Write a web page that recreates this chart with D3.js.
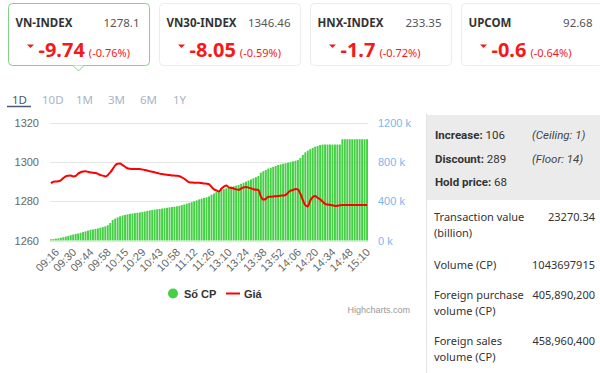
<!DOCTYPE html>
<html>
<head>
<meta charset="utf-8">
<script src="https://cdn.jsdelivr.net/npm/d3@7"></script>
<style>
  body { margin: 0; background: #fff; }
  svg { display: block; }
</style>
</head>
<body>
<div id="chart"></div>
<script>
// index cards
var indexNames = ["VN-INDEX", "VN30-INDEX", "HNX-INDEX", "UPCOM"];
var indexValues = ["1278.1", "1346.46", "233.35", "92.68"];
var indexChanges = ["-9.74", "-8.05", "-1.7", "-0.6"];
var indexPcts = ["(-0.76%)", "(-0.59%)", "(-0.72%)", "(-0.64%)"];

var tabs = ["1D", "10D", "1M", "3M", "6M", "1Y"];

// x tick labels, one every 7 points
var tickLabels = ["09:16", "09:30", "09:44", "09:58", "10:15", "10:29", "10:43", "10:58", "11:12",
  "11:26", "13:10", "13:24", "13:38", "13:52", "14:06", "14:20", "14:34", "14:48", "15:10"];

// cumulative volume (k)
var volume = [
  12, 15, 19, 22, 28, 34, 40, 47, 54, 61,
  67, 72, 79, 86, 93, 100, 109, 113, 118, 123,
  130, 136, 144, 155, 178, 208, 222, 235, 246, 254,
  260, 266, 271, 275, 278, 282, 286, 291, 295, 301,
  306, 310, 314, 318, 321, 325, 329, 333, 337, 341,
  344, 348, 352, 360, 367, 375, 382, 390, 399, 408,
  418, 426, 433, 440, 448, 465, 478, 492, 504, 514,
  522, 531, 540, 546, 552, 558, 565, 576, 587, 598,
  610, 621, 633, 644, 656, 690, 705, 717, 731, 740,
  749, 758, 767, 774, 780, 786, 792, 798, 805, 811,
  818, 840, 870, 896, 914, 929, 942, 954, 962, 971,
  976, 976, 976, 976, 976, 976, 976, 976, 1030, 1030,
  1030, 1030, 1030, 1030, 1030, 1030, 1030, 1030, 1030
];

// index price
var price = [
  1289.1, 1289.9, 1290.0, 1290.1, 1290.6, 1291.7, 1292.6, 1292.9, 1293.0, 1292.6,
  1292.8, 1294.0, 1294.7, 1295.1, 1295.2, 1294.9, 1294.6, 1294.5, 1294.3, 1293.9,
  1293.3, 1293.0, 1292.6, 1293.2, 1294.7, 1296.3, 1298.2, 1299.0, 1299.1, 1298.3,
  1297.5, 1296.7, 1296.5, 1296.4, 1296.4, 1296.4, 1296.3, 1296.1, 1295.9, 1295.6,
  1295.2, 1295.0, 1294.7, 1294.3, 1294.0, 1293.8, 1293.6, 1293.4, 1293.3, 1293.1,
  1293.0, 1292.9, 1292.7, 1292.1, 1291.4, 1290.4, 1289.6, 1289.5, 1289.4, 1289.4,
  1289.4, 1289.2, 1289.0, 1288.9, 1288.6, 1287.3, 1286.0, 1285.5, 1284.9, 1286.3,
  1287.4, 1288.0, 1287.0, 1286.8, 1286.4, 1286.0, 1285.8, 1286.4, 1287.0, 1287.2,
  1286.9, 1286.5, 1286.1, 1285.8, 1285.7, 1282.4, 1280.8, 1281.1, 1282.2, 1282.3,
  1282.4, 1282.5, 1282.6, 1282.8, 1282.9, 1283.1, 1284.3, 1285.3, 1285.7, 1286.2,
  1286.0, 1283.8, 1280.6, 1278.0, 1277.3, 1280.3, 1282.0, 1282.6, 1281.7, 1280.9,
  1279.8, 1278.6, 1278.3, 1278.1, 1277.9, 1277.6, 1277.7, 1277.9, 1278.0, 1278.0,
  1278.0, 1278.1, 1278.1, 1278.1, 1278.1, 1278.1, 1278.1, 1278.1, 1278.1
];

var leftTicks = [1260, 1280, 1300, 1320];
var rightTicks = [0, 400, 800, 1200];

// side panel
var breadthLabels = ["Increase:", "Discount:", "Hold price:"];
var breadthValues = ["106", "289", "68"];
var breadthNotes = ["(Ceiling: 1)", "(Floor: 14)", ""];
var statLabels = [["Transaction value", "(billion)"], ["Volume (CP)"], ["Foreign purchase", "volume (CP)"], ["Foreign sales", "volume (CP)"]];
var statValues = ["23270.34", "1043697915", "405,890,200", "458,960,400"];

var width = 600, height = 373;
var svg = d3.select("#chart").append("svg")
  .attr("width", width)
  .attr("height", height);

var red = "#f51a1a";
var cardFont = "'Noto Sans', 'Open Sans', sans-serif";
var hcFont = "'Liberation Sans', Arial, sans-serif";

// cards
var cards = svg.append("g").selectAll("g")
  .data(indexNames)
  .enter()
  .append("g")
  .attr("transform", function (d, i) { return "translate(" + (8.5 + i * 151) + ",3.5)"; });

cards.append("rect")
  .attr("width", 141)
  .attr("height", 62)
  .attr("rx", 4)
  .attr("fill", "#fff")
  .attr("stroke", function (d, i) { return i === 0 ? "#86cf86" : "#ececec"; });

cards.append("text")
  .attr("x", 7).attr("y", 23)
  .attr("font-family", cardFont).attr("font-size", 11.5).attr("font-weight", "bold")
  .attr("fill", "#333")
  .text(function (d) { return d; });

cards.append("text")
  .attr("x", 131).attr("y", 23)
  .attr("text-anchor", "end")
  .attr("font-family", cardFont).attr("font-size", 11.5)
  .attr("fill", "#555")
  .text(function (d, i) { return indexValues[i]; });

cards.append("path")
  .attr("d", "M18.5,41 L25.5,41 L22,44.5 Z")
  .attr("fill", red);

var chg = cards.append("text")
  .attr("x", 30).attr("y", 53)
  .attr("font-family", cardFont)
  .attr("fill", red);
chg.append("tspan")
  .attr("font-size", 20).attr("font-weight", "bold")
  .text(function (d, i) { return indexChanges[i]; });
chg.append("tspan")
  .attr("dx", 4)
  .attr("font-size", 11)
  .text(function (d, i) { return indexPcts[i]; });

// little pointer under the active card
svg.append("path")
  .attr("d", "M73,65.5 L78.5,71 L84,65.5")
  .attr("fill", "#fff")
  .attr("stroke", "#86cf86");

// tabs
var tabX = [12, 42, 76, 108, 140, 173];
svg.append("g").selectAll("text")
  .data(tabs)
  .enter()
  .append("text")
  .attr("x", function (d, i) { return tabX[i]; })
  .attr("y", 104)
  .attr("font-family", cardFont).attr("font-size", 11.5)
  .attr("fill", function (d, i) { return i === 0 ? "#4a5a70" : "#a8b4c4"; })
  .text(function (d) { return d; });
svg.append("line")
  .attr("x1", 7).attr("x2", 31).attr("y1", 106.5).attr("y2", 106.5)
  .attr("stroke", "#4a5a70").attr("stroke-width", 1.5);

// chart scales
var N = volume.length;
var x = d3.scaleBand()
  .domain(d3.range(N))
  .range([50, 368])
  .paddingInner(0.22);
var yLeft = d3.scaleLinear().domain([1260, 1320]).range([240.5, 122.5]);
var yRight = d3.scaleLinear().domain([0, 1200]).range([240.5, 122.5]);

// grid
svg.append("g").selectAll("line")
  .data(leftTicks)
  .enter()
  .append("line")
  .attr("x1", 50).attr("x2", 368)
  .attr("y1", function (d) { return Math.round(yLeft(d)) + 0.5; })
  .attr("y2", function (d) { return Math.round(yLeft(d)) + 0.5; })
  .attr("stroke", "#e6e6e6");

// left axis
var gl = svg.append("g")
  .attr("transform", "translate(42,0)")
  .call(d3.axisLeft(yLeft).tickValues(leftTicks).tickSize(0).tickPadding(3)
    .tickFormat(d3.format("d")));
gl.select(".domain").remove();
gl.selectAll("text")
  .attr("font-family", hcFont).attr("font-size", 11).attr("fill", "#666");

// right axis
var gr = svg.append("g")
  .attr("transform", "translate(376,0)")
  .call(d3.axisRight(yRight).tickValues(rightTicks).tickSize(0).tickPadding(2)
    .tickFormat(function (d) { return d + " k"; }));
gr.select(".domain").remove();
gr.selectAll("text")
  .attr("font-family", hcFont).attr("font-size", 11).attr("fill", "#7cb5ec");

// volume bars
svg.append("g").selectAll("rect")
  .data(volume)
  .enter()
  .append("rect")
  .attr("x", function (d, i) { return x(i); })
  .attr("width", x.bandwidth())
  .attr("y", function (d) { return yRight(d); })
  .attr("height", function (d) { return yRight(0) - yRight(d); })
  .attr("fill", "#45cf45");

// price line
var line = d3.line()
  .x(function (d, i) { return x(i) + x.bandwidth() / 2; })
  .y(function (d) { return yLeft(d); })
  .curve(d3.curveMonotoneX);
svg.append("path")
  .datum(price)
  .attr("d", line)
  .attr("fill", "none")
  .attr("stroke", "#ff0000")
  .attr("stroke-width", 2);

// x axis
var gx = svg.append("g")
  .attr("transform", "translate(0,242)")
  .call(d3.axisBottom(x).tickValues(d3.range(0, N, 7)).tickSize(0)
    .tickFormat(function (d) { return tickLabels[d / 7]; }));
gx.select(".domain").remove();
gx.selectAll("text")
  .attr("font-family", hcFont).attr("font-size", 11).attr("fill", "#666")
  .attr("text-anchor", "end")
  .attr("dy", "0.35em")
  .attr("transform", "translate(4,6) rotate(-45)");

// legend
svg.append("circle").attr("cx", 173).attr("cy", 293.5).attr("r", 5).attr("fill", "#45cf45");
svg.append("text").attr("x", 184).attr("y", 297.5)
  .attr("font-family", hcFont).attr("font-size", 11).attr("font-weight", "bold").attr("fill", "#333")
  .text("Số CP");
svg.append("line").attr("x1", 226).attr("x2", 240).attr("y1", 293.5).attr("y2", 293.5)
  .attr("stroke", "#ff0000").attr("stroke-width", 2);
svg.append("text").attr("x", 244).attr("y", 297.5)
  .attr("font-family", hcFont).attr("font-size", 11).attr("font-weight", "bold").attr("fill", "#333")
  .text("Giá");
svg.append("text").attr("x", 410).attr("y", 313)
  .attr("text-anchor", "end")
  .attr("font-family", hcFont).attr("font-size", 9).attr("fill", "#999")
  .text("Highcharts.com");

// side panel
svg.append("line").attr("x1", 426.5).attr("x2", 426.5).attr("y1", 113).attr("y2", 373)
  .attr("stroke", "#e4e4e4");
svg.append("rect").attr("x", 427).attr("y", 115).attr("width", 173).attr("height", 85)
  .attr("fill", "#ebebeb");

var br = svg.append("g").selectAll("g")
  .data(breadthLabels)
  .enter()
  .append("g")
  .attr("transform", function (d, i) { return "translate(435," + (139 + i * 23.5) + ")"; });
var brText = br.append("text")
  .attr("font-family", "Roboto, sans-serif").attr("font-size", 11.5).attr("fill", "#333");
brText.append("tspan").attr("font-weight", "bold").text(function (d) { return d; });
brText.append("tspan").text(function (d, i) { return " " + breadthValues[i]; });
br.append("text")
  .attr("x", 97)
  .attr("font-family", "Roboto, sans-serif").attr("font-size", 11.5).attr("font-style", "italic")
  .attr("fill", "#444")
  .text(function (d, i) { return breadthNotes[i]; });

var statY = [221, 269, 299, 345];
var st = svg.append("g").selectAll("g")
  .data(statLabels)
  .enter()
  .append("g")
  .attr("transform", function (d, i) { return "translate(0," + statY[i] + ")"; });
st.selectAll("text.lab")
  .data(function (d) { return d; })
  .enter()
  .append("text")
  .attr("class", "lab")
  .attr("x", 434)
  .attr("y", function (d, j) { return j * 16; })
  .attr("font-family", cardFont).attr("font-size", 11).attr("fill", "#333")
  .text(function (d) { return d; });
st.append("text")
  .attr("x", 595)
  .attr("text-anchor", "end")
  .attr("font-family", cardFont).attr("font-size", 11).attr("fill", "#333")
  .text(function (d, i) { return statValues[i]; });
</script>
</body>
</html>
